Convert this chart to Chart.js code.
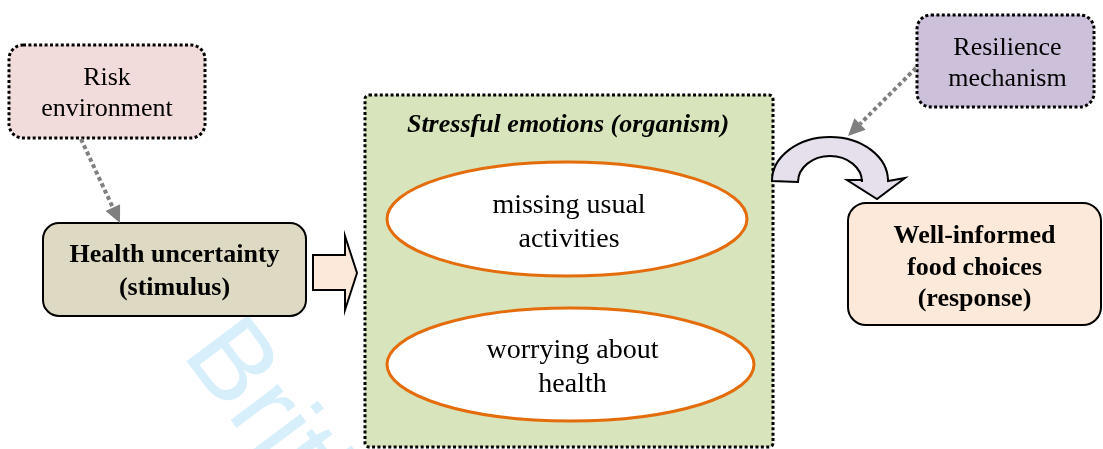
<!DOCTYPE html>
<html>
<head>
<meta charset="utf-8">
<script src="https://cdn.jsdelivr.net/npm/chart.js@4.4.1/dist/chart.umd.min.js"></script>
<style>
html,body{margin:0;padding:0;background:#fff;}
#wrap{width:1103px;height:449px;position:relative;}
</style>
</head>
<body>
<div id="wrap"><canvas id="c"></canvas></div>
<script>
// ---- content (text) ----
const riskLabel = ["Risk", "environment"];
const stimulusLabel = ["Health uncertainty", "(stimulus)"];
const organismTitle = ["Stressful emotions (organism)"];
const emotionItems = [["missing usual", "activities"], ["worrying about", "health"]];
const resilienceLabel = ["Resilience", "mechanism"];
const responseLabel = ["Well-informed", "food choices", "(response)"];
const watermarkText = ["British Food Journal"];

// ---- layout (diagram coordinates, 0..1103 x 0..449) ----
const L = {
  risk:      {x0:9,   y0:45,  x1:205,  y1:138, r:14, fill:'#f2dcdb', dotted:true,  bold:false, base:[85,116]},
  stimulus:  {x0:43,  y0:223, x1:306,  y1:316, r:16, fill:'#ddd9c3', dotted:false, bold:true,  base:[262,295]},
  organism:  {x0:365, y0:95,  x1:773,  y1:447, r:4,  fill:'#d7e4bc', dotted:true},
  resil:     {x0:917, y0:15,  x1:1094, y1:107, r:14, fill:'#ccc0da', dotted:true,  bold:false, base:[55,86]},
  response:  {x0:848, y0:203, x1:1101, y1:325, r:18, fill:'#fde9d9', dotted:false, bold:true,  base:[243,275,306]},
  ellipses: [{cx:567, cy:219, rx:180, ry:57, base:[213,247]}, {cx:570.5, cy:364.5, rx:183.5, ry:56.5, base:[358,392]}],
  titleBase: 132, titleX: 568
};

function drawDiagram(chart){
  const ctx = chart.ctx;
  const sx = chart.scales.x, sy = chart.scales.y;
  const X = v => sx.getPixelForValue(v);
  const Y = v => sy.getPixelForValue(v);
  const serif = '"Liberation Serif","Times New Roman",serif';

  ctx.save();
  // watermark
  ctx.save();
  ctx.translate(X(181), Y(354));
  ctx.rotate(53 * Math.PI / 180);
  ctx.fillStyle = '#d6effa';
  ctx.font = '112px "Liberation Sans", Arial, sans-serif';
  ctx.textAlign = 'left';
  ctx.textBaseline = 'alphabetic';
  ctx.fillText(watermarkText[0], 0, 0);
  ctx.restore();

  function box(b){
    ctx.beginPath();
    ctx.roundRect(X(b.x0), Y(b.y0), X(b.x1) - X(b.x0), Y(b.y1) - Y(b.y0), b.r);
    ctx.fillStyle = b.fill;
    ctx.fill();
    ctx.strokeStyle = '#000';
    if (b.dotted){ ctx.lineWidth = 3; ctx.setLineDash([3, 2.4]); }
    else { ctx.lineWidth = 2; ctx.setLineDash([]); }
    ctx.stroke();
    ctx.setLineDash([]);
  }
  function lines(arr, cx, bases, font){
    ctx.fillStyle = '#000';
    ctx.font = font;
    ctx.textAlign = 'center';
    ctx.textBaseline = 'alphabetic';
    arr.forEach((t, i) => ctx.fillText(t, X(cx), Y(bases[i])));
  }
  function grayArrow(x0, y0, x1, y1){
    const a = Math.atan2(Y(y1) - Y(y0), X(x1) - X(x0));
    const hl = 17, hw = 8;
    const bx = X(x1) - hl * Math.cos(a), by = Y(y1) - hl * Math.sin(a);
    ctx.strokeStyle = '#7f7f7f';
    ctx.lineWidth = 4;
    ctx.setLineDash([4, 3]);
    ctx.beginPath();
    ctx.moveTo(X(x0), Y(y0));
    ctx.lineTo(bx, by);
    ctx.stroke();
    ctx.setLineDash([]);
    ctx.fillStyle = '#7f7f7f';
    ctx.beginPath();
    ctx.moveTo(X(x1), Y(y1));
    ctx.lineTo(bx + hw * Math.sin(a), by - hw * Math.cos(a));
    ctx.lineTo(bx - hw * Math.sin(a), by + hw * Math.cos(a));
    ctx.closePath();
    ctx.fill();
  }

  // boxes
  box(L.risk);
  lines(riskLabel, (L.risk.x0 + L.risk.x1) / 2, L.risk.base, '26px ' + serif);
  box(L.stimulus);
  lines(stimulusLabel, (L.stimulus.x0 + L.stimulus.x1) / 2, L.stimulus.base, 'bold 26px ' + serif);
  box(L.organism);
  lines(organismTitle, L.titleX, [L.titleBase], 'italic bold 26px ' + serif);
  L.ellipses.forEach((e, i) => {
    ctx.beginPath();
    ctx.ellipse(X(e.cx), Y(e.cy), e.rx, e.ry, 0, 0, Math.PI * 2);
    ctx.fillStyle = '#fff';
    ctx.fill();
    ctx.strokeStyle = '#e46c0a';
    ctx.lineWidth = 3;
    ctx.stroke();
    lines(emotionItems[i], e.cx + 2, e.base, '28px ' + serif);
  });
  box(L.resil);
  lines(resilienceLabel, (L.resil.x0 + L.resil.x1) / 2 + 2, L.resil.base, '26px ' + serif);
  box(L.response);
  lines(responseLabel, (L.response.x0 + L.response.x1) / 2, L.response.base, 'bold 26px ' + serif);

  // block arrow stimulus -> organism
  ctx.beginPath();
  ctx.moveTo(X(313), Y(255));
  ctx.lineTo(X(345), Y(255));
  ctx.lineTo(X(345), Y(236));
  ctx.lineTo(X(357), Y(273));
  ctx.lineTo(X(345), Y(310));
  ctx.lineTo(X(345), Y(290));
  ctx.lineTo(X(313), Y(290));
  ctx.closePath();
  ctx.fillStyle = '#fde9d9';
  ctx.fill();
  ctx.strokeStyle = '#000';
  ctx.lineWidth = 2;
  ctx.stroke();

  // curved arrow organism -> response
  ctx.beginPath();
  ctx.ellipse(X(830), Y(181), 58, 44, 0, Math.PI, 0, false);
  ctx.lineTo(X(905), Y(178));
  ctx.lineTo(X(877), Y(199));
  ctx.lineTo(X(847), Y(180));
  ctx.lineTo(X(862), Y(180));
  ctx.ellipse(X(830), Y(182), 32, 26, 0, 0, Math.PI, true);
  ctx.closePath();
  ctx.fillStyle = '#e5e0ec';
  ctx.fill();
  ctx.strokeStyle = '#000';
  ctx.lineWidth = 2;
  ctx.stroke();

  // dotted influence arrows
  grayArrow(81, 139, 120, 223);
  grayArrow(916, 68, 848, 136);
  ctx.restore();
}

new Chart(document.getElementById('c'), {
  type: 'scatter',
  data: { datasets: [{ data: [], pointRadius: 0 }] },
  options: {
    responsive: true,
    maintainAspectRatio: false,
    animation: false,
    events: [],
    layout: { padding: 0 },
    plugins: { legend: { display: false }, tooltip: { enabled: false }, title: { display: false } },
    scales: {
      x: { type: 'linear', min: 0, max: 1103, display: false },
      y: { type: 'linear', min: 0, max: 449, reverse: true, display: false }
    }
  },
  plugins: [{ id: 'diagram', afterDraw: drawDiagram }]
});
</script>
</body>
</html>
